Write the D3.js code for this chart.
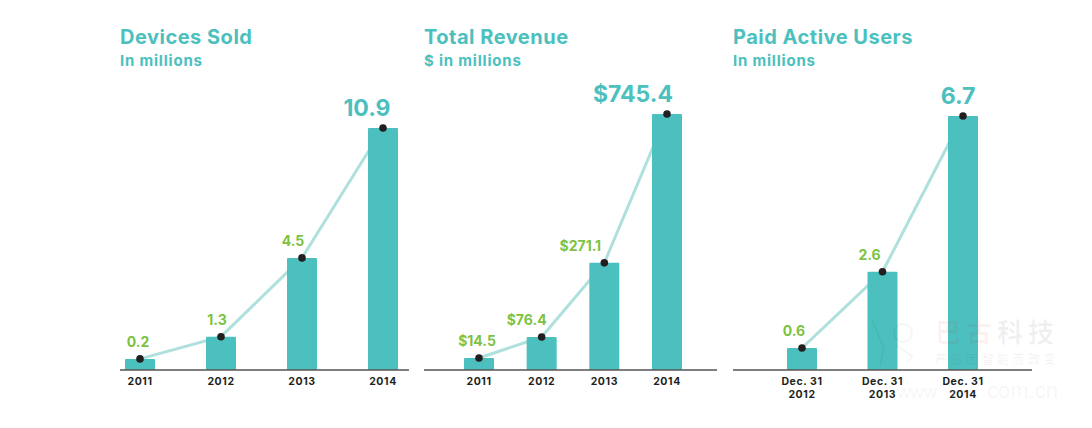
<!DOCTYPE html>
<html>
<head>
<meta charset="utf-8">
<script src="https://cdn.jsdelivr.net/npm/d3@7"></script>
<style>
  body { margin: 0; background: #fff; }
  text { font-family: Inter, sans-serif; font-weight: 700; }
  .mark { font-family: "Noto Sans CJK SC", sans-serif; }
  .url { font-family: "Liberation Sans", sans-serif; font-weight: 400; }
</style>
</head>
<body>
<svg id="chart" width="1092" height="428"></svg>
<script>
// Labels as printed on the chart
var deviceYears = ["2011", "2012", "2013", "2014"];
var deviceLabels = ["0.2", "1.3", "4.5", "10.9"];
var deviceHeights = [0.5, 1.5, 5.05, 10.9];

var revenueYears = ["2011", "2012", "2013", "2014"];
var revenueLabels = ["$14.5", "$76.4", "$271.1", "$745.4"];
var revenueHeights = [35, 96, 312, 745.4];

var userDates = [["Dec. 31", "2012"], ["Dec. 31", "2013"], ["Dec. 31", "2014"]];
var userLabels = ["0.6", "2.6", "6.7"];
var userHeights = [0.58, 2.59, 6.7];

var TEAL = "#4bc0be", LINE = "#aee0dd", GREEN = "#7dc242", DARK = "#231f20";
var baseY = 370;
var svg = d3.select("#chart");

// faint watermark laid over the chart, the url is split around the last axis label
function drawWatermark() {
  var g = svg.append("g");
  g.append("text").attr("class", "mark").attr("x", 935).attr("y", 342).attr("font-size", 26)
    .attr("letter-spacing", 5).attr("fill", "#d22").attr("fill-opacity", 0.06).text("巴古");
  g.append("text").attr("class", "mark").attr("x", 997).attr("y", 342).attr("font-size", 26)
    .attr("letter-spacing", 5).attr("fill", "#000").attr("fill-opacity", 0.06).text("科技");
  g.append("text").attr("class", "mark").attr("x", 935).attr("y", 364).attr("font-size", 12)
    .attr("letter-spacing", 3.5).attr("fill", "#633").attr("fill-opacity", 0.06).text("产品因智能而改变");
  g.append("text").attr("class", "url").attr("x", 897).attr("y", 398).attr("font-size", 18.5)
    .attr("fill", "#000").attr("fill-opacity", 0.055).text("www.");
  g.append("text").attr("class", "url").attr("x", 987).attr("y", 398).attr("font-size", 22)
    .attr("fill", "#000").attr("fill-opacity", 0.055).text("com.cn");
  // mascot outline
  var m = g.append("g").attr("fill", "none").attr("stroke", "#000").attr("stroke-opacity", 0.04).attr("stroke-width", 2);
  m.append("circle").attr("cx", 903).attr("cy", 333).attr("r", 9);
  m.append("path").attr("d", "M872 320 L884 348 L880 366 M896 345 L912 356 L908 362");
}

function drawPanel(p) {
  var cats = p.cats.map(c => [].concat(c));
  var x = d3.scalePoint().domain(d3.range(cats.length)).range([p.firstX, p.lastX]);
  var y = d3.scaleLinear().domain([0, d3.max(p.heights)]).range([baseY, p.topY]);
  var g = svg.append("g");

  g.append("text").attr("x", p.left).attr("y", 44).attr("font-size", 20)
    .attr("letter-spacing", 0.5).attr("fill", TEAL).text(p.title);
  g.append("text").attr("x", p.left).attr("y", 66).attr("font-size", 15)
    .attr("letter-spacing", 0.8).attr("fill", TEAL).text(p.subtitle);

  g.append("path").datum(p.heights)
    .attr("d", d3.line().x((d, i) => x(i)).y(d => y(d)))
    .attr("fill", "none").attr("stroke", LINE).attr("stroke-width", 3);

  // bars go over the line so it only shows between them
  g.selectAll("rect").data(p.heights).join("rect")
    .attr("x", (d, i) => x(i) - 15)
    .attr("y", d => y(d))
    .attr("width", 30)
    .attr("height", d => baseY - y(d))
    .attr("rx", 1)
    .attr("fill", TEAL);

  g.selectAll("circle").data(p.heights).join("circle")
    .attr("cx", (d, i) => x(i)).attr("cy", d => y(d)).attr("r", 3.8).attr("fill", DARK);

  g.append("line").attr("x1", p.left).attr("x2", p.right)
    .attr("y1", baseY).attr("y2", baseY).attr("stroke", "#555").attr("stroke-width", 1.3);

  var last = p.labels.length - 1;
  g.selectAll("text.val").data(p.labels).join("text").attr("class", "val")
    .attr("x", (d, i) => x(i) + p.labelDx[i])
    .attr("y", (d, i) => y(p.heights[i]) - 12)
    .attr("text-anchor", "middle")
    .attr("font-size", (d, i) => i == last ? 23 : 14)
    .attr("font-weight", (d, i) => i == last ? 800 : 700)
    .attr("fill", (d, i) => i == last ? TEAL : GREEN)
    .text(d => d);

  cats.forEach((lines, i) => {
    lines.forEach((t, j) => {
      g.append("text").attr("x", x(i)).attr("y", 385 + j * 13)
        .attr("text-anchor", "middle").attr("font-size", 10.5)
        .attr("letter-spacing", 0.6)
        .attr("font-weight", 800).attr("fill", DARK).text(t);
    });
  });
}

drawPanel({title: "Devices Sold", subtitle: "In millions", cats: deviceYears, labels: deviceLabels,
  heights: deviceHeights, left: 120, right: 409, firstX: 140, lastX: 383, topY: 128, labelDx: [-2, -4, -9, -16]});
drawPanel({title: "Total Revenue", subtitle: "$ in millions", cats: revenueYears, labels: revenueLabels,
  heights: revenueHeights, left: 424, right: 717, firstX: 479, lastX: 667, topY: 114, labelDx: [-2, -15, -24, -34]});
drawPanel({title: "Paid Active Users", subtitle: "In millions", cats: userDates, labels: userLabels,
  heights: userHeights, left: 733, right: 1032, firstX: 802, lastX: 963, topY: 116, labelDx: [-8, -13, -5]});
drawWatermark();
</script>
</body>
</html>
